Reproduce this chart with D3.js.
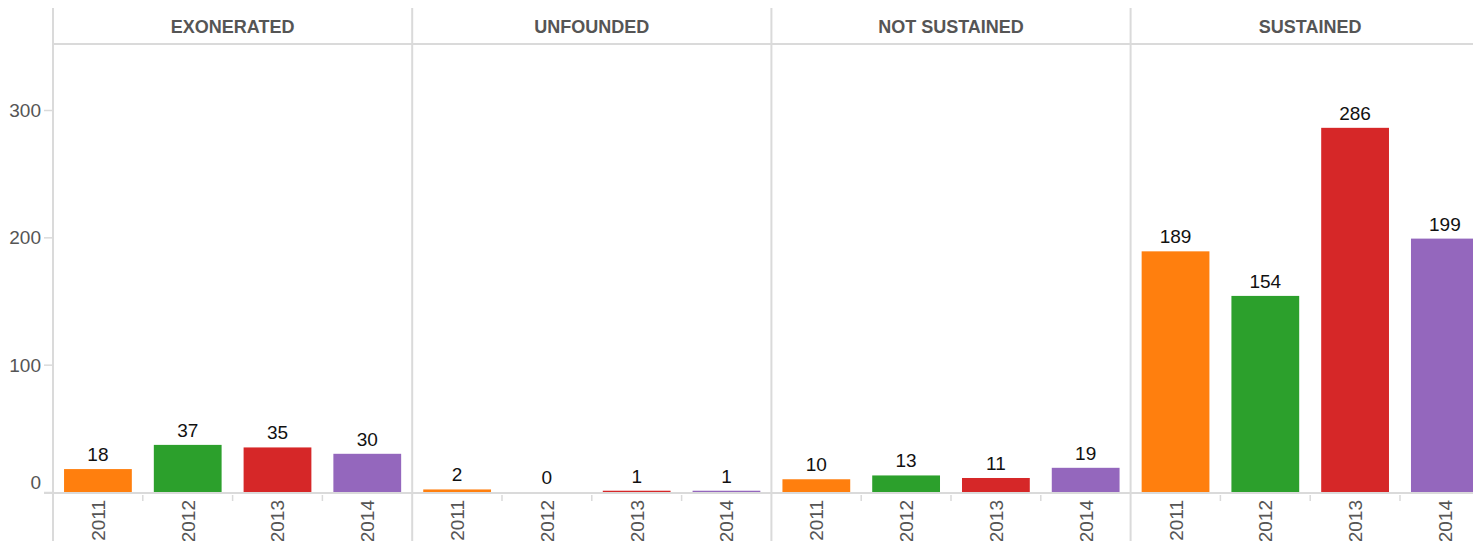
<!DOCTYPE html>
<html><head><meta charset="utf-8">
<script src="https://cdn.jsdelivr.net/npm/d3@7"></script>
<style>body{margin:0;background:#fff}svg{display:block}text{font-family:Arial,"Liberation Sans",sans-serif}</style>
</head><body>
<svg id="c" width="1473" height="541"></svg>
<script>
const panels = ["EXONERATED","UNFOUNDED","NOT SUSTAINED","SUSTAINED"];
const years = ["2011","2012","2013","2014"];
const exonerated = [18,37,35,30];
const unfounded = [2,0,1,1];
const notSustained = [10,13,11,19];
const sustained = [189,154,286,199];
const yTicks = [0,100,200,300];
const colors = ["#ff7f0e","#2ca02c","#d62728","#9467bd"];
const seriesValues = [exonerated, unfounded, notSustained, sustained];

(function(){
const svg = d3.select("#c");
const left = 53, panelW = 359.2, topY = 8, headerBottom = 44, base = 492;
const grid = "#dadada";
const y = d3.scaleLinear().domain([0,300]).range([base, 110]);
const px = d3.scaleBand().domain(panels).range([left, left + panelW*4]);
const xb = d3.scaleBand().domain(years).range([0, panelW]).paddingInner(0.245).paddingOuter(0.123);

const yAxis = d3.axisLeft(y).tickValues(yTicks).tickSize(9).tickPadding(3);
const ya = svg.append("g").attr("transform",`translate(${left},0)`).call(yAxis);
ya.select(".domain").remove();
ya.selectAll("line").attr("stroke",grid).attr("stroke-width",1.5);
ya.selectAll("text").attr("font-size",19).attr("fill","#555").attr("dy",d=>d===0?"-0.2em":"0.35em");

svg.append("line").attr("x1",left).attr("x2",1473).attr("y1",headerBottom).attr("y2",headerBottom).attr("stroke",grid).attr("stroke-width",2);
svg.append("line").attr("x1",44).attr("x2",1473).attr("y1",base+1).attr("y2",base+1).attr("stroke",grid).attr("stroke-width",2);

panels.forEach((p,i)=>{
  const g = svg.append("g").attr("transform",`translate(${px(p)},0)`);
  g.append("line").attr("x1",0).attr("x2",0).attr("y1",topY).attr("y2",541).attr("stroke",grid).attr("stroke-width",2);
  g.append("text").attr("x",panelW/2).attr("y",33).attr("text-anchor","middle")
    .attr("font-size",18).attr("font-weight","bold").attr("fill","#555").text(p);
  const vals = seriesValues[i];
  g.selectAll("rect").data(vals).join("rect")
    .attr("x",(d,j)=>xb(years[j])).attr("width",xb.bandwidth())
    .attr("y",d=>y(d)).attr("height",d=>base - y(d)).attr("fill",(d,j)=>colors[j]);
  g.selectAll("text.v").data(vals).join("text").attr("class","v")
    .attr("x",(d,j)=>xb(years[j])+xb.bandwidth()/2).attr("y",d=>y(d)-8)
    .attr("text-anchor","middle").attr("font-size",19).attr("fill","#111").text(d=>d);
  const step = panelW/4;
  [1,2,3].forEach(k=>{
    g.append("line").attr("x1",k*step).attr("x2",k*step).attr("y1",495).attr("y2",501).attr("stroke",grid).attr("stroke-width",1.5);
  });
  years.forEach((yr,j)=>{
    const cx = xb(yr)+xb.bandwidth()/2;
    g.append("text").attr("transform",`translate(${cx+7},500) rotate(-90)`)
      .attr("text-anchor","end").attr("font-size",19).attr("fill","#555").text(yr);
  });
});
})();
</script>
</body></html>
